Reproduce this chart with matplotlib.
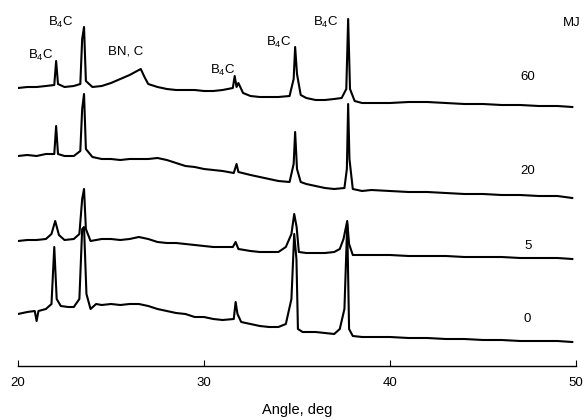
import matplotlib
matplotlib.use("Agg")
import matplotlib.pyplot as plt

plt.rcParams["font.family"] = ["Liberation Sans", "DejaVu Sans"]
plt.rcParams["mathtext.default"] = "regular"

# diffraction traces (stacked, arbitrary intensity units)
angle_60 = [20.0, 20.5, 21.0, 21.5, 21.95, 22.05, 22.15, 22.5, 23.0, 23.35, 23.45, 23.55, 23.65,
            24.0, 24.5, 25.0, 25.5, 26.0, 26.4, 26.6, 26.8, 27.0, 27.5, 28.0, 28.5, 29.0,
            29.5, 30.0, 30.5, 31.0, 31.55, 31.65, 31.75, 31.85, 32.1, 32.5, 33.0, 33.5, 34.0,
            34.6, 34.82, 34.9, 35.0, 35.2, 35.5, 36.0, 36.5, 37.0, 37.4, 37.65, 37.75, 37.85,
            38.1, 38.5, 39.0, 40.0, 41.0, 42.0, 43.0, 44.0, 45.0, 46.0, 47.0, 48.0, 49.0, 49.8]
mj_60 = [278, 279, 279, 280, 281, 305, 282, 279, 280, 282, 327, 339, 285,
         279, 280, 283, 287, 291, 295, 297, 289, 282, 279, 277, 276, 276,
         276, 275, 275, 276, 278, 290, 279, 283, 273, 270, 269, 269, 269,
         270, 287, 319, 292, 271, 268, 266, 266, 267, 268, 277, 347, 277,
         265, 263, 263, 263, 264, 264, 263, 262, 262, 261, 261, 260, 260, 259]

angle_20 = [20.0, 20.5, 21.0, 21.5, 21.95, 22.05, 22.15, 22.5, 23.0, 23.35, 23.45, 23.55, 23.65,
            24.0, 24.5, 25.0, 25.5, 26.0, 26.5, 27.0, 27.5, 28.0, 28.5, 29.0, 29.5, 30.0,
            30.5, 31.0, 31.6, 31.75, 31.85, 32.5, 33.0, 33.5, 34.0, 34.6, 34.82, 34.9, 35.0,
            35.2, 35.5, 36.0, 36.5, 37.0, 37.55, 37.68, 37.75, 37.82, 38.0, 38.5, 39.0, 40.0,
            41.0, 42.0, 43.0, 44.0, 45.0, 46.0, 47.0, 48.0, 49.0, 49.8]
mj_20 = [210, 211, 210, 212, 212, 240, 212, 210, 210, 215, 257, 272, 217,
         209, 207, 207, 206, 207, 207, 207, 208, 206, 203, 200, 199, 197,
         196, 195, 193, 202, 194, 191, 189, 187, 185, 184, 202, 234, 197,
         184, 182, 180, 178, 177, 178, 197, 262, 207, 177, 175, 176, 175,
         174, 174, 173, 172, 172, 171, 171, 170, 170, 168]

angle_5 = [20.0, 20.5, 21.0, 21.5, 21.8, 22.0, 22.2, 22.5, 23.0, 23.3, 23.45, 23.55, 23.65,
           23.9, 24.5, 25.0, 25.5, 26.0, 26.5, 27.0, 27.5, 28.0, 28.5, 29.0, 29.5, 30.0,
           30.5, 31.0, 31.55, 31.7, 31.85, 32.5, 33.0, 33.5, 34.0, 34.4, 34.7, 34.85, 34.98,
           35.1, 35.5, 36.0, 36.5, 37.0, 37.3, 37.5, 37.7, 37.8, 38.0, 38.5, 39.0, 40.0,
           41.0, 42.0, 43.0, 44.0, 45.0, 46.0, 47.0, 48.0, 49.0, 49.8]
mj_5 = [125, 126, 126, 127, 132, 145, 131, 126, 127, 132, 167, 177, 137,
        125, 127, 127, 126, 127, 129, 127, 124, 123, 123, 122, 121, 120,
        119, 119, 119, 124, 117, 115, 114, 114, 114, 119, 132, 152, 139,
        114, 113, 113, 113, 114, 117, 127, 145, 122, 111, 111, 111, 111,
        110, 110, 110, 109, 109, 109, 108, 108, 108, 107]

angle_0 = [20.0, 20.5, 20.9, 21.0, 21.1, 21.5, 21.8, 21.95, 22.08, 22.3, 22.7, 23.0, 23.3,
           23.45, 23.55, 23.68, 23.9, 24.2, 24.5, 25.0, 25.5, 26.0, 26.5, 27.0, 27.5, 28.0,
           28.5, 29.0, 29.5, 30.0, 30.5, 31.0, 31.6, 31.7, 31.8, 32.0, 32.5, 33.0, 33.5,
           34.0, 34.4, 34.7, 34.85, 34.97, 35.05, 35.3, 35.5, 36.0, 36.5, 37.0, 37.3, 37.55,
           37.7, 37.8, 38.0, 38.5, 39.0, 40.0, 41.0, 42.0, 43.0, 44.0, 45.0, 46.0, 47.0,
           48.0, 49.0, 49.8]
mj_0 = [52, 54, 55, 45, 55, 57, 62, 119, 67, 60, 59, 59, 67,
        137, 139, 72, 57, 62, 61, 62, 61, 62, 62, 60, 57, 55,
        53, 52, 49, 49, 47, 46, 47, 64, 52, 44, 42, 40, 39,
        39, 42, 67, 132, 107, 37, 34, 34, 34, 33, 32, 37, 57,
        142, 37, 30, 29, 29, 29, 28, 28, 27, 27, 26, 26, 25,
        25, 25, 24]

series_labels = ["60", "20", "5", "0"]
label_y = [289, 195, 120, 47]

peak_names = ["B$_4$C", "B$_4$C", "BN, C", "B$_4$C", "B$_4$C", "B$_4$C"]
peak_x = [21.2, 22.3, 25.8, 31.0, 34.0, 36.55]
peak_y = [311, 344, 315, 296, 324, 344]


def main() -> None:
    fig = plt.figure(figsize=(5.84, 4.2), dpi=100)
    ax = fig.add_axes([18 / 584, 54 / 420, 558 / 584, 366 / 420])

    for x, y in [(angle_60, mj_60), (angle_20, mj_20), (angle_5, mj_5), (angle_0, mj_0)]:
        ax.plot(x, y, color="black", linewidth=1.5)

    for name, x, y in zip(peak_names, peak_x, peak_y):
        ax.text(x, y, name, ha="center", va="center", fontsize=9.5)
    for name, y in zip(series_labels, label_y):
        ax.text(47.4, y, name, ha="center", va="center", fontsize=9.5)
    ax.text(49.75, 343, "MJ", ha="center", va="center", fontsize=9.5)

    ax.set_xlim(20, 50)
    ax.set_ylim(0, 366)
    ax.set_xticks([20, 30, 40, 50])
    ax.set_yticks([])
    for side in ["left", "right", "top"]:
        ax.spines[side].set_visible(False)
    ax.spines["bottom"].set_linewidth(1.0)
    ax.tick_params(axis="x", direction="in", length=4, labelsize=9.5, pad=8)
    ax.set_xlabel("Angle, deg", fontsize=10.5, labelpad=10)
    ax.patch.set_alpha(0)

    fig.savefig("out.png", dpi=100)
    plt.close(fig)


if __name__ == "__main__":
    main()
